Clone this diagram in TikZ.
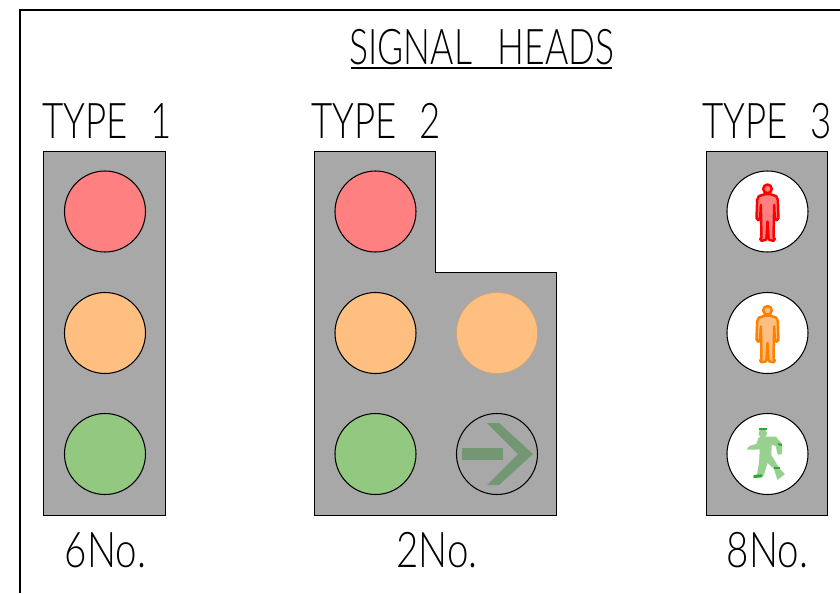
\documentclass[tikz,border=0pt]{standalone}
\usepackage{fontspec}
\newfontfamily\cadfont{Lato Light}
\usetikzlibrary{positioning}
\def\px{.02cm}
\definecolor{headgrey}{HTML}{A8A8A8}
\definecolor{lampred}{HTML}{FF8080}
\definecolor{lampamber}{HTML}{FFBF80}
\definecolor{lampgreen}{HTML}{92C87F}
\definecolor{arrowgreen}{HTML}{739673}
\definecolor{walkgreen}{HTML}{98D090}
\definecolor{walkdark}{HTML}{2CA82C}
\definecolor{manorange}{HTML}{FF8000}
\tikzset{
    every node/.style={font=\cadfont},
    cadtext/.style={inner sep=0, transform shape, xscale=.745, font=\cadfont\fontsize{28}{28}\selectfont},
    panel/.style={draw=black, fill=headgrey, line width=.55pt},
    lamp/.style={draw=black, circle, minimum size=81*\px, inner sep=0, outer sep=0, line width=.6pt},
    pics/manfig/.style 2 args={code={
        \begin{scope}[scale=.3333, line join=round, line cap=round]
        \draw[#1, line width=1.4pt, fill=#2] (0,-68) circle (13);
        \draw[#1, line width=1.4pt, fill=#2] (-8,-52) -- (-26,-46) -- (-31,-35) -- (-33,20) -- (-28,26) -- (-22,20) -- (-20,-20)
            -- (-18,78) -- (-22,82) -- (-18,88) -- (-5,85) -- (-3,78) -- (0,30) -- (3,78) -- (5,85) -- (18,88) -- (22,82)
            -- (18,78) -- (20,-20) -- (22,20) -- (28,26) -- (33,20) -- (31,-35) -- (26,-46) -- (8,-52) -- cycle;
        \draw[#1, line width=1pt] (0,30) -- (0,72);
        \end{scope}
    }},
    pics/walkfig/.style={code={
        \begin{scope}[scale=.3333, line join=round]
        \fill[walkgreen] (-14,-62) circle (13);
        \draw[walkgreen, fill=walkgreen, line width=.8pt] (-16,-50) -- (24,-50) -- (42,-29) -- (42,-2) -- (32,0) -- (27,-25) -- (11,-32) -- (9,3)
            -- (21,23) -- (37,48) -- (49,60) -- (31,75) -- (21,43) -- (-1,23) -- (-13,63) -- (-41,70) -- (-29,61)
            -- (-23,23) -- (-21,-17) -- (-36,-15) -- (-59,-15) -- (-53,-22) -- (-31,-29) -- (-26,-47) -- cycle;
        \fill[walkdark] (-26,-78) rectangle (-3,-71);
        \fill[walkdark] (31,-33) -- (43,-30) -- (43,-24) -- (31,-27) -- cycle;
        \fill[walkdark] (20,39) rectangle (38,45);
        \fill[walkdark] (-42,63) -- (-16,61) -- (-15,70) -- (-42,72) -- cycle;
        \end{scope}
    }},
}

\begin{document}
\begin{tikzpicture}[x=\px, y=-\px]
    \useasboundingbox (0,0) rectangle (840,593);

    % frame
    \draw [line width=.7pt] (20,593) -- (20,10) -- (840,10);

    % title
    \node [cadtext, xscale=.97] (title) at (482,47) {SIGNAL\hspace{.72em}HEADS};
    \draw [line width=.7pt] (351,68) -- (612,68);

    % heads
    \node [panel, minimum width=122*\px, minimum height=364*\px, inner sep=0] (headone) at (104.5,333) {};
    \path [panel] (314.5,151) -- (435.5,151) -- (435.5,272) -- (556.5,272) -- (556.5,515) -- (314.5,515) -- cycle;
    \node [panel, minimum width=121*\px, minimum height=364*\px, inner sep=0] (headthree) at (767,333) {};

    \foreach \x/\n in {105/a,375.5/b}{
        \node [lamp, fill=lampred] (red\n) at (\x,211.5) {};
        \node [lamp, fill=lampamber] (amber\n) at (\x,333) {};
        \node [lamp, fill=lampgreen] (green\n) at (\x,454) {};
    }

    \node [lamp, fill=lampamber, draw=lampamber!85!black, line width=.3pt] (ambertwo) at (497,333) {};
    \node [lamp] (arrowlamp) at (497,454) {};
    \fill [arrowgreen] (462,448) rectangle (503,460);
    \fill [arrowgreen] (487,423) -- (499,423) -- (533,454) -- (499,485) -- (487,485) -- (518,454) -- cycle;

    \node [lamp, fill=white] (manred) at (767.5,211.5) {};
    \node [lamp, fill=white] (manamber) at (767.5,333) {};
    \node [lamp, fill=white] (manwalk) at (767.5,454) {};
    \pic at (manred) {manfig={red}{lampred}};
    \pic at (manamber) {manfig={manorange}{lampamber}};
    \pic at (manwalk) {walkfig};

    % labels
    \node [cadtext] (typea) at (107.5,121) {TYPE\hspace{.62em}1};
    \node [cadtext] (typeb) at (376.5,121) {TYPE\hspace{.62em}2};
    \node [cadtext] (typec) at (767.5,121) {TYPE\hspace{.62em}3};
    \node [cadtext, xscale=1.05] (numa) at (105.5,550) {6No.};
    \node [cadtext, xscale=1.05] (numb) at (437,550) {2No.};
    \node [cadtext, xscale=1.05] (numc) at (767.5,550) {8No.};
\end{tikzpicture}
\end{document}
